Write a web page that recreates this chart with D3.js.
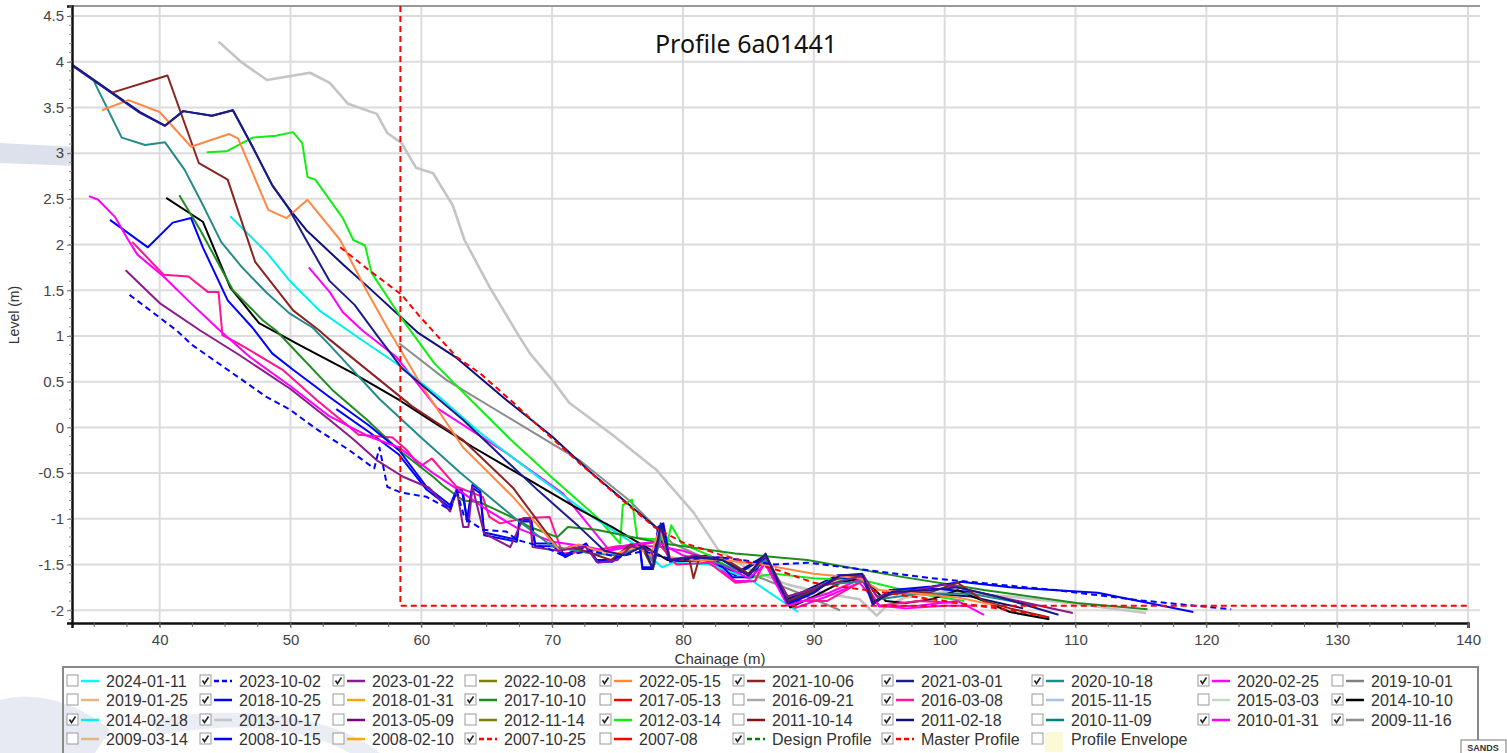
<!DOCTYPE html>
<html>
<head>
<meta charset="utf-8">
<script src="https://cdn.jsdelivr.net/npm/d3@7"></script>
<style>
body { margin: 0; background: #fff; }
svg { display: block; font-family: "Liberation Sans", Arial, sans-serif; }
</style>
</head>
<body>
<div id="chart"></div>
<script>
// profile surveys: [chainage (m), level (m)]
const s20231002=[[37.7,1.45],[41.3,1.06],[42.5,0.9],[48.2,0.33],[49.9,0.2],[52,-0.02],[54.5,-0.25],[56.4,-0.45],[56.8,-0.22],[57.4,-0.65],[58.4,-0.71],[60.4,-0.76],[62.2,-0.9],[62.7,-0.69],[63.3,-0.99],[64.7,-1.12],[66.5,-1.14],[67.3,-1.23],[69.6,-1.32],[70.8,-1.4],[73,-1.35],[75,-1.42],[77,-1.35],[78,-1.4],[79.4,-1.45],[82.8,-1.42],[87,-1.5],[89.5,-1.48],[99,-1.65],[108.5,-1.78],[114.8,-1.89],[121.9,-1.99]];
const s20230122=[[37.4,1.72],[40,1.36],[43.1,1.06],[46,0.8],[50,0.42],[53,0.08],[54.8,-0.13],[56.6,-0.36],[58.6,-0.54],[60.6,-0.66],[62.2,-0.92],[62.7,-0.68],[63.2,-1.09],[63.6,-1.09],[63.9,-0.65],[64.8,-1.16],[66.8,-1.31],[67.8,-0.99],[68.3,-0.99],[68.5,-1.31],[70.5,-1.35],[72.5,-1.3],[73.5,-1.48],[75,-1.45],[76,-1.3],[77.6,-1.35],[77.8,-1.5],[78.3,-1.08],[79,-1.45],[81,-1.4],[83,-1.45],[85,-1.62],[86.3,-1.4],[88,-1.85],[91,-1.72],[93.8,-1.62],[94.8,-1.85],[97,-1.8],[100,-1.72],[104,-1.85],[109.8,-2.03]];
const s20220515=[[35.6,3.47],[37.6,3.58],[40,3.45],[42.4,3.07],[45.3,3.21],[46,3.16],[48.3,2.38],[49.7,2.29],[51.3,2.49],[53.8,2.05],[55.8,1.5],[57.4,1.09],[60.1,0.44],[63.2,-0.22],[67,-0.76],[70.6,-1.35],[72,-1.28],[73.5,-1.35],[75,-1.38],[76.5,-1.3],[77.5,-1.4],[78.2,-1.12],[79,-1.42],[81,-1.45],[83,-1.45],[86,-1.5],[90,-1.6],[93.5,-1.65],[95,-1.78],[98,-1.82],[101,-1.86],[104,-1.95]];
const s20211006=[[36.3,3.66],[40.6,3.85],[43,2.89],[45.2,2.71],[47.3,1.81],[50.2,1.28],[52.2,1.06],[53,0.96],[56.8,0.52],[59.3,0.23],[63.2,-0.14],[67,-0.66],[70.6,-1.35],[71.5,-1.3],[73,-1.38],[74.5,-1.45],[76,-1.28],[77,-1.35],[77.7,-1.55],[78.2,-1.1],[79,-1.45],[80.5,-1.45],[80.8,-1.65],[81.2,-1.45],[83,-1.42],[85,-1.6],[86.3,-1.4],[88,-1.9],[90,-1.78],[92,-1.64],[93.8,-1.62],[94.6,-1.9],[96,-1.82],[99,-1.8],[101,-1.7],[103,-1.9],[105,-1.98],[108,-2.08]];
const s20210301=[[33.3,3.96],[35,3.79],[38.5,3.44],[40.4,3.3],[41.8,3.46],[44,3.41],[45.6,3.47],[47.1,3.07],[48.6,2.65],[49.8,2.41],[51.2,2.05],[53,1.6],[54.9,1.34],[56.6,1.01],[58.5,0.65],[60.4,0.42],[63.2,0.08],[66,-0.3],[69,-0.7],[72,-1.08],[74,-1.35],[75.5,-1.4],[77,-1.3],[77.7,-1.55],[78.3,-1.05],[79,-1.45],[81,-1.42],[83,-1.45],[85,-1.62],[86.3,-1.38],[88,-1.92],[90,-1.8],[92,-1.62],[93.7,-1.6],[94.5,-1.92],[96,-1.8],[99,-1.78],[101,-1.75],[104,-1.85],[108.7,-2.05]];
const s20201018=[[35,3.78],[37.1,3.17],[38.9,3.09],[40.4,3.12],[41.9,2.82],[43.1,2.49],[44.7,2.03],[46.3,1.75],[48.2,1.47],[49.9,1.25],[51.7,1.09],[53,0.9],[56.8,0.31],[59.9,-0.1],[63,-0.5],[67.3,-1.01],[70,-1.3],[73,-1.38],[75,-1.4],[77,-1.3],[77.8,-1.5],[78.4,-1.12],[79,-1.45],[82,-1.45],[85,-1.6],[86.3,-1.45],[88,-1.85],[91,-1.72],[94,-1.68],[95,-1.88],[98,-1.82],[102,-1.82],[107,-1.95]];
const s20200225=[[34.6,2.53],[35.3,2.49],[36.6,2.3],[37.6,2.05],[38.3,1.89],[40.3,1.65],[42.3,1.37],[44.6,1.06],[46.9,0.77],[50,0.45],[53,0.12],[56,-0.1],[58.3,-0.22],[60.9,-0.5],[63,-0.7],[65,-0.9],[67.3,-1.1],[70,-1.25],[72.5,-1.3],[74,-1.35],[76,-1.28],[78,-1.25],[80,-1.4],[83,-1.5],[85,-1.65],[86.3,-1.5],[88,-1.95],[91,-1.82],[93.7,-1.65],[95,-1.96],[98,-1.95],[101,-1.9],[103,-2.05]];
const s20181025=[[36.2,2.27],[39.1,1.97],[41,2.24],[42.4,2.29],[43.3,1.97],[45.2,1.39],[47.1,1.09],[48.6,0.81],[50.2,0.63],[53,0.33],[56,0.02],[58.3,-0.25],[60.4,-0.65],[62.2,-0.85],[62.7,-0.68],[63.1,-0.69],[63.5,-1.01],[63.9,-0.63],[64.5,-0.69],[64.8,-1.15],[67.3,-1.23],[67.5,-1.01],[68.4,-1.01],[68.7,-1.27],[70.1,-1.27],[71,-1.4],[72.6,-1.27],[73.4,-1.45],[74.6,-1.45],[75.9,-1.29],[76.7,-1.29],[76.9,-1.53],[77.7,-1.53],[78.1,-1.09],[78.5,-1.05],[79,-1.45],[80.8,-1.45],[82.3,-1.42],[83.8,-1.64],[85.3,-1.64],[86.3,-1.39],[88,-1.94],[90,-1.81],[91.8,-1.62],[93.7,-1.62],[94.5,-1.94],[96,-1.78],[99,-1.74],[101.2,-1.69],[105,-1.75],[111.7,-1.81],[119,-2.02]];
const s20171010=[[41.5,2.54],[43.1,2.16],[45.6,1.5],[47.9,1.17],[48.9,1.06],[53.2,0.41],[55.8,0.09],[58.3,-0.25],[60.9,-0.54],[61.6,-0.63],[63.2,-0.8],[64.5,-0.82],[67.3,-1.01],[68.3,-1.09],[70.4,-1.2],[71.2,-1.09],[73.4,-1.12],[78.5,-1.27],[80.5,-1.31],[84,-1.38],[89.5,-1.45],[96.5,-1.63],[103,-1.78],[110.1,-1.92],[115.5,-1.99]];
const s20160308=[[37.9,2.03],[38.5,1.94],[40.3,1.67],[42.2,1.65],[43.7,1.48],[44.5,1.48],[44.8,1.01],[46,0.92],[49.4,0.63],[52,0.3],[54.8,-0.03],[55.2,-0.08],[57.8,-0.11],[58.9,-0.25],[59.9,-0.43],[60.8,-0.34],[62.7,-0.65],[64.7,-0.76],[65.2,-0.98],[66,-1.05],[68,-0.99],[69.8,-0.98],[70.8,-1.38],[73,-1.35],[75,-1.3],[77,-1.28],[78,-1.25],[79.5,-1.5],[82,-1.48],[84,-1.7],[85.5,-1.68],[86.3,-1.45],[88,-1.9],[91,-1.9],[93.7,-1.68],[95,-1.95],[98,-1.9],[101,-1.92]];
const s20141010=[[40.5,2.51],[43.3,2.25],[45.4,1.53],[47.6,1.14],[50.7,0.9],[54.8,0.59],[58.3,0.3],[60.9,0.06],[64,-0.22],[68.3,-0.58],[72.1,-0.9],[74.6,-1.09],[78.8,-1.45],[81,-1.45],[83,-1.45],[85,-1.62],[86.2,-1.45],[88.2,-1.97],[90,-1.85],[92,-1.7],[93.8,-1.65],[95.5,-1.9],[97,-1.92],[99,-1.88],[101,-1.78],[103,-1.9],[105,-2.02],[108,-2.1]];
const s20140218=[[45.4,2.31],[48.2,1.91],[49.9,1.61],[52.2,1.28],[55.5,0.95],[58.3,0.68],[61.4,0.33],[64.5,-0.06],[69,-0.55],[73.4,-1.01],[76,-1.25],[77,-1.35],[78.4,-1.53],[79.3,-1.48],[82,-1.5],[85,-1.65],[88.8,-2.02]];
const s20131017=[[44.5,4.22],[46.3,3.99],[48.2,3.8],[51.5,3.88],[53,3.77],[54.4,3.54],[56.6,3.43],[57.4,3.22],[58.5,3.11],[59.6,2.84],[60.9,2.78],[62.4,2.43],[63.3,2.05],[65.2,1.54],[67.5,0.99],[68.3,0.81],[70,0.52],[71.3,0.27],[74.6,-0.08],[78,-0.47],[80.8,-0.93],[82.7,-1.34],[85,-1.55],[88,-1.72],[91,-1.82],[93.5,-1.88],[94.8,-2.06],[95.6,-1.95],[97,-1.86],[100,-1.8],[105,-1.85],[110,-1.93],[115.4,-2.03]];
const s20120314=[[43.6,3.01],[45.1,3.02],[47.1,3.17],[48.9,3.19],[50.2,3.23],[50.9,3.11],[51.3,2.74],[51.9,2.71],[54,2.29],[54.8,2.05],[55.7,1.99],[56.2,1.69],[58.6,1.17],[61,0.7],[63.7,0.31],[66.8,-0.13],[70,-0.55],[73.4,-0.98],[75.2,-1.27],[75.4,-0.85],[76.1,-0.79],[76.5,-1.21],[78.5,-1.23],[78.7,-1.34],[79.1,-1.07],[79.9,-1.27],[82,-1.4],[84.9,-1.65],[87,-1.6],[90,-1.65],[94,-1.68],[98,-1.82],[101.5,-1.9]];
const s20110218=[[33.3,3.97],[35,3.8],[38.5,3.45],[40.4,3.3],[41.8,3.46],[44,3.41],[45.6,3.47],[47.1,3.07],[48.6,2.65],[49.8,2.41],[51.2,2.16],[54.1,1.77],[55.9,1.54],[59.7,1.04],[62.7,0.76],[66.5,0.3],[70,-0.1],[73,-0.5],[75.5,-0.8],[78,-1.1],[78.5,-1.3],[79,-1.45],[82,-1.4],[84,-1.6],[86.3,-1.4],[88,-1.88],[91.8,-1.62],[93.6,-1.62],[94.7,-1.9],[95.8,-1.78],[99,-1.82],[102,-1.85],[106,-1.98]];
const s20100131=[[51.4,1.75],[53,1.48],[54,1.26],[55.5,1.06],[58.1,0.77],[61.2,0.21],[66.5,-0.28],[70.8,-0.72],[74.4,-1.35],[76,-1.3],[78,-1.3],[80,-1.35],[82,-1.45],[84,-1.68],[85.5,-1.68],[86.3,-1.45],[88.5,-1.98],[91,-1.85],[93.5,-1.7],[95,-1.95],[97,-1.98],[100,-1.95],[102,-1.95]];
const s20091116=[[58.3,0.92],[61.9,0.52],[67,0.08],[72.1,-0.36],[75.9,-0.8],[79.2,-1.27],[82,-1.45],[86,-1.65],[89,-1.82],[92,-2.0]];
const s20081015=[[53.5,0.2],[56,-0.05],[58.3,-0.3],[60.4,-0.68],[62.2,-0.88],[62.7,-0.7],[63.2,-0.72],[63.5,-1.03],[63.9,-0.66],[64.5,-0.72],[64.8,-1.18],[67.3,-1.25],[67.5,-1.03],[68.4,-1.03],[68.7,-1.3],[70.1,-1.3],[71,-1.42],[72.6,-1.3],[73.4,-1.47],[74.6,-1.47],[75.9,-1.31],[76.7,-1.31],[76.9,-1.55],[77.7,-1.55],[78.1,-1.12],[78.5,-1.08],[79,-1.47],[82,-1.45],[84,-1.62],[86.3,-1.42],[88,-1.9],[91.8,-1.65],[93.7,-1.64],[94.6,-1.92],[96,-1.8],[99,-1.76],[102,-1.8]];
const s20071025=[[53.8,1.97],[56,1.72],[58.5,1.45],[59.9,1.21],[62.7,0.77],[64.5,0.59],[66.8,0.3],[69.3,-0.03],[72,-0.38],[75.4,-0.8],[77.8,-1.09],[80,-1.26],[83,-1.4],[87,-1.55],[90,-1.7],[95,-1.8],[100,-1.9],[105,-2.0],[108,-2.08]];
const masterProfile=[[58.4,4.61],[58.4,-1.95],[140,-1.95]];

// legend: labels row by row, and whether each is ticked
const legendLabels=[
    "2024-01-11","2023-10-02","2023-01-22","2022-10-08","2022-05-15","2021-10-06","2021-03-01","2020-10-18","2020-02-25","2019-10-01",
    "2019-01-25","2018-10-25","2018-01-31","2017-10-10","2017-05-13","2016-09-21","2016-03-08","2015-11-15","2015-03-03","2014-10-10",
    "2014-02-18","2013-10-17","2013-05-09","2012-11-14","2012-03-14","2011-10-14","2011-02-18","2010-11-09","2010-01-31","2009-11-16",
    "2009-03-14","2008-10-15","2008-02-10","2007-10-25","2007-08","Design Profile","Master Profile","Profile Envelope"
];
const legendChecked=[
    0,1,1,0,1,1,1,1,1,0,
    0,1,0,1,0,0,1,0,0,1,
    1,1,0,0,1,0,1,0,1,1,
    0,1,0,1,0,1,1,0
];

const xTicks=[40,50,60,70,80,90,100,110,120,130,140];
const yTicks=[-2,-1.5,-1,-0.5,0,0.5,1,1.5,2,2.5,3,3.5,4,4.5];

const colors={
    "2024-01-11":"#00ffff","2023-10-02":"#0000ff","2023-01-22":"#8b1a8b","2022-10-08":"#808000","2022-05-15":"#ff8844",
    "2021-10-06":"#8b2323","2021-03-01":"#1c1c8c","2020-10-18":"#238b8b","2020-02-25":"#ff00ff","2019-10-01":"#808080",
    "2019-01-25":"#deb887","2018-10-25":"#0000ff","2018-01-31":"#ffa500","2017-10-10":"#1e8c1e","2017-05-13":"#ff0000",
    "2016-09-21":"#a9a9a9","2016-03-08":"#ff1493","2015-11-15":"#a4c2ea","2015-03-03":"#c1dcc1","2014-10-10":"#000000",
    "2014-02-18":"#00f0f0","2013-10-17":"#c4c4c4","2013-05-09":"#800080","2012-11-14":"#808000","2012-03-14":"#11ee11",
    "2011-10-14":"#8b1010","2011-02-18":"#10107a","2010-11-09":"#008080","2010-01-31":"#ff00ff","2009-11-16":"#8c8c8c",
    "2009-03-14":"#deb887","2008-10-15":"#0000ff","2008-02-10":"#ffa500","2007-10-25":"#ff0000","2007-08":"#ff0000",
    "Design Profile":"#008000","Master Profile":"#ff0000"
};
const dashed=new Set(["2023-10-02","2007-10-25","Design Profile","Master Profile"]);

// drawn oldest first so recent surveys sit on top
const plotted=[
    ["2013-10-17",s20131017],["2009-11-16",s20091116],["2008-10-15",s20081015],["2010-01-31",s20100131],
    ["2011-02-18",s20110218],["2012-03-14",s20120314],["2014-02-18",s20140218],["2014-10-10",s20141010],
    ["2016-03-08",s20160308],["2017-10-10",s20171010],["2018-10-25",s20181025],["2020-02-25",s20200225],
    ["2020-10-18",s20201018],["2021-10-06",s20211006],["2022-05-15",s20220515],["2023-01-22",s20230122],
    ["2023-10-02",s20231002],["2007-10-25",s20071025],["2021-03-01",s20210301],["Master Profile",masterProfile]
];

const W=1507, H=753;
const pLeft=72, pRight=1468, pTop=6, pBottom=623;

const svg=d3.select("#chart").append("svg")
    .attr("width", W)
    .attr("height", H);

// faint watermark behind the chart
const wm=svg.append("g").attr("fill", "#dde1ec");
wm.append("path").attr("d", "M0,143 L78,147 L78,166 L0,163 Z");
wm.append("path").attr("d", "M0,700 C40,690 80,705 110,730 L95,753 L0,753 Z").attr("opacity", 0.7);
wm.append("path").attr("d", "M150,720 C230,705 330,712 380,753 L350,753 C300,725 230,722 160,735 Z").attr("opacity", 0.6);

svg.append("rect")
    .attr("x", pLeft).attr("y", pTop)
    .attr("width", pRight-pLeft).attr("height", pBottom-pTop)
    .attr("fill", "#fff");

const x=d3.scaleLinear().domain([33.3, 140]).range([pLeft, pRight]);
const y=d3.scaleLinear().domain([-2.14, 4.61]).range([pBottom, pTop]);

// grid
svg.append("g")
    .selectAll("line")
    .data(xTicks)
    .enter().append("line")
    .attr("x1", d => x(d)).attr("x2", d => x(d))
    .attr("y1", pTop).attr("y2", pBottom)
    .attr("stroke", "#dcdcdc").attr("stroke-width", 2);
svg.append("g")
    .selectAll("line")
    .data(yTicks)
    .enter().append("line")
    .attr("x1", pLeft).attr("x2", pRight+12)
    .attr("y1", d => y(d)).attr("y2", d => y(d))
    .attr("stroke", "#dcdcdc").attr("stroke-width", 2);

// top border
svg.append("line")
    .attr("x1", pLeft).attr("x2", 1480)
    .attr("y1", pTop).attr("y2", pTop)
    .attr("stroke", "#999").attr("stroke-width", 2);

svg.append("clipPath").attr("id", "plotclip")
    .append("rect")
    .attr("x", pLeft).attr("y", pTop)
    .attr("width", pRight-pLeft+12).attr("height", pBottom-pTop);

const line=d3.line()
    .x(d => x(d[0]))
    .y(d => y(d[1]));

const lines=svg.append("g").attr("clip-path", "url(#plotclip)");

lines.selectAll("path")
    .data(plotted)
    .enter().append("path")
    .attr("d", d => line(d[1]))
    .attr("fill", "none")
    .attr("stroke", d => colors[d[0]])
    .attr("stroke-width", d => d[0]==="2013-10-17" ? 2.6 : 2)
    .attr("stroke-linejoin", "round")
    .attr("stroke-dasharray", d => dashed.has(d[0]) ? "6,4" : null);

// axes
const yAxis=svg.append("g")
    .attr("transform", `translate(${pLeft},0)`)
    .call(d3.axisLeft(y).tickValues(yTicks).tickSize(5).tickFormat(d => String(d)));
const xAxis=svg.append("g")
    .attr("transform", `translate(0,${pBottom})`)
    .call(d3.axisBottom(x).tickValues(xTicks).tickSize(5).tickPadding(6));

[yAxis, xAxis].forEach(a => {
    a.select(".domain").attr("stroke", "#111").attr("stroke-width", 2.5);
    a.selectAll(".tick line").attr("stroke", "#666");
    a.selectAll(".tick text")
        .attr("fill", "#444")
        .style("font-size", "15px")
        .style("font-family", "'Liberation Sans', Arial, sans-serif");
});

// minor ticks
svg.append("g")
    .selectAll("line")
    .data(d3.range(-21, 47).map(v => v/10))
    .enter().append("line")
    .attr("x1", pLeft-3).attr("x2", pLeft)
    .attr("y1", d => y(d)).attr("y2", d => y(d))
    .attr("stroke", "#888");
svg.append("g")
    .selectAll("line")
    .data(d3.range(35, 141, 2.5))
    .enter().append("line")
    .attr("x1", d => x(d)).attr("x2", d => x(d))
    .attr("y1", pBottom).attr("y2", pBottom+4)
    .attr("stroke", "#666");

// titles
svg.append("text")
    .attr("x", 746).attr("y", 53)
    .attr("text-anchor", "middle")
    .style("font-family", "'Noto Sans', 'Open Sans', sans-serif")
    .style("font-size", "25px")
    .attr("fill", "#111")
    .text("Profile 6a01441");

svg.append("text")
    .attr("transform", "translate(19,315) rotate(-90)")
    .attr("text-anchor", "middle")
    .style("font-size", "14px")
    .attr("fill", "#333")
    .text("Level (m)");

svg.append("text")
    .attr("x", 720).attr("y", 664)
    .attr("text-anchor", "middle")
    .style("font-size", "15px")
    .attr("fill", "#333")
    .text("Chainage (m)");

// legend
svg.append("path")
    .attr("d", "M63,753 L63,667 L1478,667 L1478,740")
    .attr("fill", "none")
    .attr("stroke", "#888")
    .attr("stroke-width", 2);

const colX=[67, 200, 333, 465, 600, 733, 882, 1032, 1198, 1332];
const rowY=[681, 700, 720, 739];

const items=svg.append("g")
    .selectAll("g")
    .data(legendLabels)
    .enter().append("g")
    .attr("transform", (d, i) => `translate(${colX[i%10]},${rowY[Math.floor(i/10)]})`);

items.append("rect")
    .attr("x", 0).attr("y", -6)
    .attr("width", 11).attr("height", 11)
    .attr("fill", "#fff")
    .attr("stroke", "#999");

items.filter((d, i) => legendChecked[i])
    .append("path")
    .attr("d", "M2.5,-0.5 L4.5,2.5 L8.5,-3.5")
    .attr("fill", "none")
    .attr("stroke", "#222")
    .attr("stroke-width", 1.6);

items.filter(d => d!=="Profile Envelope")
    .append("line")
    .attr("x1", 14).attr("x2", 32)
    .attr("y1", 0).attr("y2", 0)
    .attr("stroke", d => colors[d])
    .attr("stroke-width", 2.5)
    .attr("stroke-dasharray", d => dashed.has(d) ? "5,3" : null);

items.filter(d => d==="Profile Envelope")
    .append("rect")
    .attr("x", 13).attr("y", -7)
    .attr("width", 18).attr("height", 20)
    .attr("fill", "#fafad6");

items.append("text")
    .attr("x", 39).attr("y", 0)
    .attr("dy", "0.36em")
    .style("font-size", "16px")
    .attr("fill", "#333")
    .text(d => d);

// SANDS tag
svg.append("rect")
    .attr("x", 1461).attr("y", 740)
    .attr("width", 45).attr("height", 14)
    .attr("fill", "#fff")
    .attr("stroke", "#777");
svg.append("text")
    .attr("x", 1483).attr("y", 751)
    .attr("text-anchor", "middle")
    .style("font-size", "9px")
    .style("font-weight", "bold")
    .attr("fill", "#333")
    .text("SANDS");
</script>
</body>
</html>
